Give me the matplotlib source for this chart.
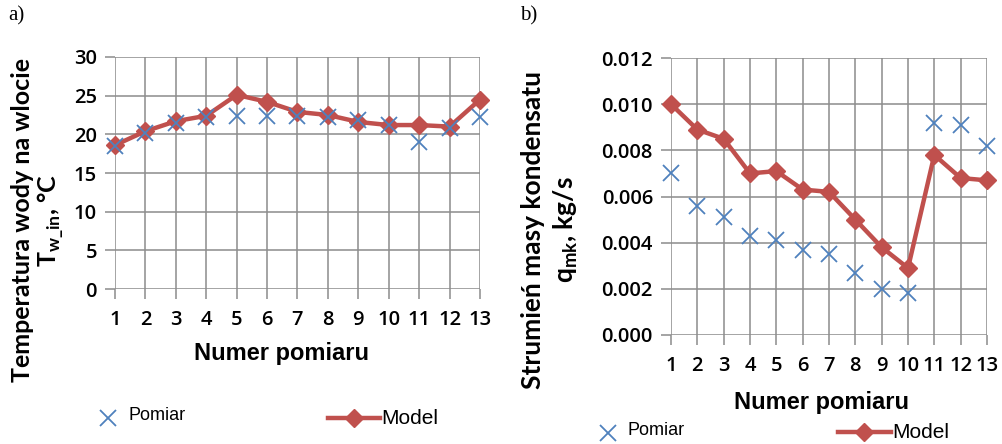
import matplotlib
matplotlib.use("Agg")
import matplotlib.pyplot as plt
from matplotlib.lines import Line2D

# dane
pomiary = list(range(1, 14))
temp_pomiar = [18.5, 20.2, 21.5, 22.2, 22.4, 22.4, 22.4, 22.3, 21.8, 21.2, 19.0, 20.8, 22.3]
temp_model = [18.6, 20.4, 21.7, 22.4, 25.1, 24.2, 22.9, 22.5, 21.6, 21.2, 21.2, 21.0, 24.5]
q_pomiar = [0.0070, 0.0056, 0.0051, 0.0043, 0.0041, 0.0037, 0.0035, 0.0027, 0.0020, 0.0018, 0.0092, 0.0091, 0.0082]
q_model = [0.0100, 0.0089, 0.0085, 0.0070, 0.0071, 0.0063, 0.0062, 0.0050, 0.0038, 0.0029, 0.0078, 0.0068, 0.0067]
temp_ticks = [0, 5, 10, 15, 20, 25, 30]
q_ticks = [0.000, 0.002, 0.004, 0.006, 0.008, 0.010, 0.012]

RED = '#C0504D'
BLUE = '#4F81BD'
GRID = '#8c8c8c'
ARIAL = ['Liberation Sans', 'DejaVu Sans']
CALIBRI = ['Lato', 'DejaVu Sans']
plt.rcParams['font.family'] = ['Open Sans', 'DejaVu Sans']

W, H = 1003, 444
fig = plt.figure(figsize=(W / 100, H / 100), dpi=100)


def fx(px):
    return px / W


def fy(py):
    return 1 - py / H


def panel(rect, yp, ym, yticks, fmt):
    ax = fig.add_axes(rect)
    ax.plot(pomiary, ym, color=RED, lw=3.2, marker='D', ms=9, zorder=3, clip_on=False)
    ax.plot(pomiary, yp, ls='none', marker='x', color=BLUE, ms=12, mew=1.3, zorder=4, clip_on=False)
    ax.set_xlim(1, 13)
    ax.set_ylim(yticks[0], yticks[-1])
    ax.set_xticks(pomiary)
    ax.set_yticks(yticks)
    ax.set_yticklabels([fmt.format(v) for v in yticks])
    ax.grid(True, color=GRID, lw=1.1)
    for s in ax.spines.values():
        s.set_visible(False)
    ax.tick_params(axis='both', colors=GRID, length=7, width=1.1, labelcolor='black',
                   labelsize=14.5, pad=6)
    ax.tick_params(axis='x', pad=8)
    for lab in ax.get_xticklabels() + ax.get_yticklabels():
        lab.set_fontweight('semibold')
    return ax


# a)
ax1 = panel([fx(115), fy(289), fx(480) - fx(115), fy(57) - fy(289)],
            temp_pomiar, temp_model, temp_ticks, '{:d}')
fig.text(fx(8), fy(16), 'a)', family='Liberation Serif', fontsize=15, va='center')
fig.text(fx(282), fy(353), 'Numer pomiaru', family=ARIAL, fontsize=17, fontweight='bold',
         ha='center', va='center')
fig.text(fx(23), fy(220), 'Temperatura wody na wlocie', family=CALIBRI, fontsize=18,
         fontweight='bold', rotation=90, ha='center', va='center')
fig.text(fx(51), fy(220), r'T$_{\mathregular{w\_in}}$, °C', family=CALIBRI, fontsize=18,
         fontweight='bold', rotation=90, ha='center', va='center')

# b)
ax2 = panel([fx(671), fy(335), fx(987) - fx(671), fy(58) - fy(335)],
            q_pomiar, q_model, q_ticks, '{:.3f}')
fig.text(fx(520), fy(16), 'b)', family='Liberation Serif', fontsize=15, va='center')
fig.text(fx(822), fy(402), 'Numer pomiaru', family=ARIAL, fontsize=17, fontweight='bold',
         ha='center', va='center')
fig.text(fx(533), fy(230), 'Strumień masy kondensatu', family=CALIBRI, fontsize=19,
         fontweight='bold', rotation=90, ha='center', va='center')
fig.text(fx(566), fy(230), r'q$_{\mathregular{mk}}$, kg/s', family=CALIBRI, fontsize=19,
         fontweight='bold', rotation=90, ha='center', va='center')

# legendy
for (xm, ym_, xt), (x0, x1, yl, xt2) in [((108, 418, 129), (328, 380, 418, 381)),
                                          ((608, 433, 628), (838, 891, 432, 892))]:
    fig.add_artist(Line2D([fx(xm)], [fy(ym_)], ls='none', marker='x', color=BLUE, ms=12, mew=1.3))
    fig.text(fx(xt), fy(ym_ - 3), 'Pomiar', family=ARIAL, fontsize=13, va='center')
    fig.add_artist(Line2D([fx(x0), fx(x1)], [fy(yl), fy(yl)], color=RED, lw=3.2))
    fig.add_artist(Line2D([fx((x0 + x1) / 2)], [fy(yl)], ls='none', marker='D', color=RED, ms=9))
    fig.text(fx(xt2), fy(yl), 'Model', family=ARIAL, fontsize=15, va='center')

fig.savefig('out.png', dpi=100)
